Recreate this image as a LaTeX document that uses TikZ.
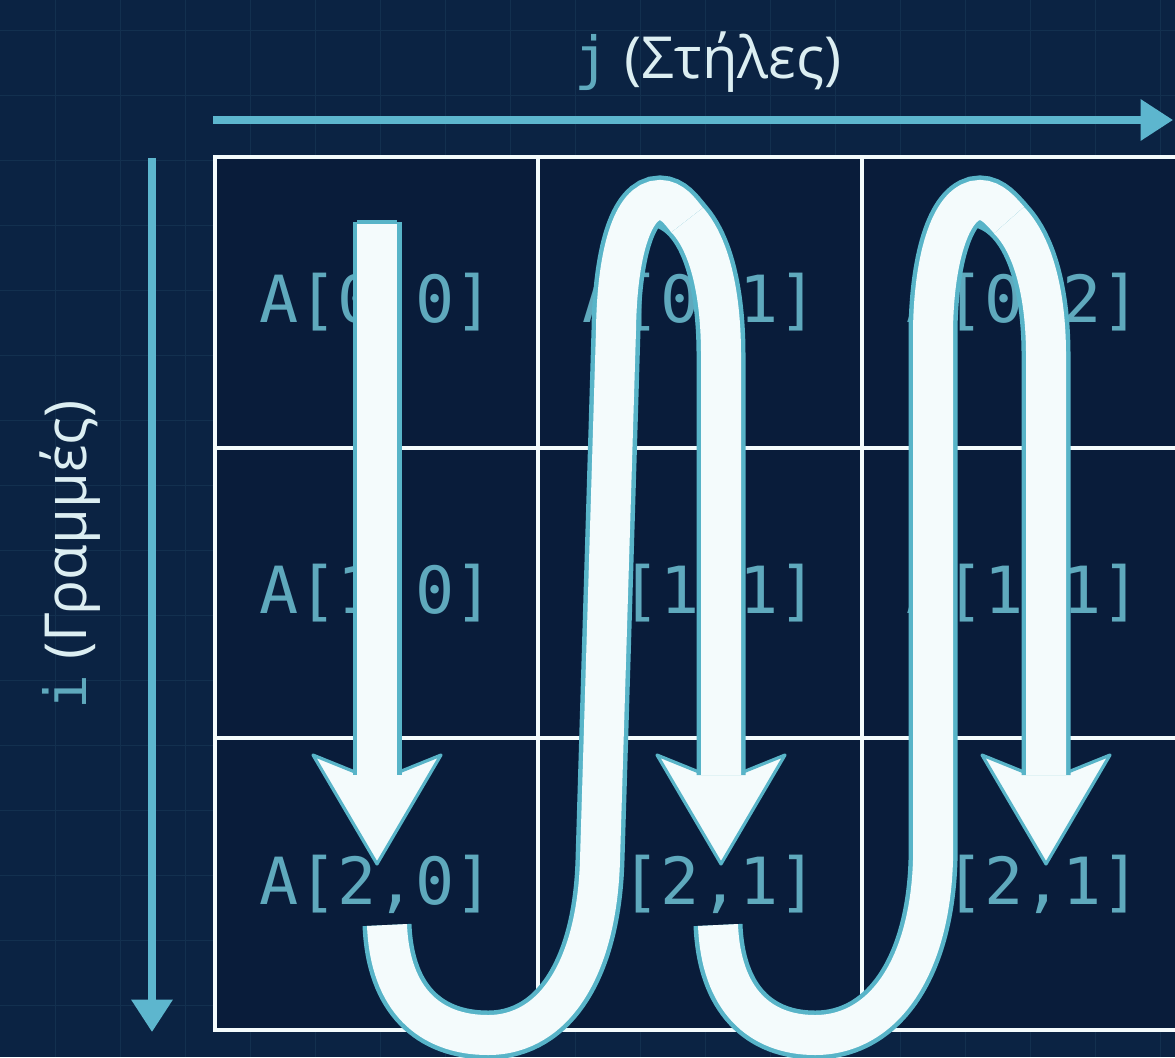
\documentclass[tikz,border=0pt]{standalone}
\usepackage{fontspec}
\setmainfont{Open Sans}
\newfontfamily\codefont{DejaVu Sans Mono}
\usetikzlibrary{arrows.meta}
\definecolor{navy}{HTML}{0B2343}
\definecolor{cellnavy}{HTML}{091C3A}
\definecolor{faint}{HTML}{13304F}
\definecolor{axisteal}{HTML}{5DB6CE}
\definecolor{codeteal}{HTML}{5FA9BD}
\definecolor{rim}{HTML}{58B4C8}
\definecolor{paper}{HTML}{F4FBFC}
\definecolor{labelwhite}{HTML}{DCEEF2}
\tikzset{bggrid/.style={draw=faint,line width=.5pt}, cellline/.style={draw=paper,line width=2.8pt,line cap=rect}, axisarrow/.style={draw=axisteal,line width=4pt,-{Triangle[length=.65cm,width=.8cm]}}, axislabel/.style={text=labelwhite,font=\fontsize{33}{38}\selectfont,inner sep=0pt}, celltext/.style={text=codeteal,font=\codefont\fontsize{37}{40}\selectfont}, band/.style={draw=paper,line width=.8cm,preaction={draw=rim,line width=.98cm}}, headtip/.style={fill=paper,draw=rim,line width=1.8pt,line join=round}}
\begin{document}
\begin{tikzpicture}[x=.02cm,y=-.02cm]
\useasboundingbox (0,0) rectangle (1175,1057);
\clip (0,0) rectangle (1175,1057);
\fill[navy] (0,0) rectangle (1175,1057);
\foreach \x in {55,120,...,1175} \draw[bggrid] (\x,0) -- (\x,1057);
\foreach \y in {30,95,...,1057} \draw[bggrid] (0,\y) -- (1175,\y);
\fill[cellnavy] (215,157) rectangle (1185,1030);
\foreach \x in {215,538,862,1185} \draw[cellline] (\x,157) -- (\x,1030);
\foreach \y in {157,448,738,1030} \draw[cellline] (215,\y) -- (1185,\y);
\coordinate (jfrom) at (213,120);
\coordinate (jto) at (1173,120);
\coordinate (ifrom) at (152,158);
\coordinate (ito) at (152,1032);
\draw[axisarrow] (jfrom) -- (jto);
\draw[axisarrow] (ifrom) -- (ito);
\node[axislabel] (jlab) at (708,62) {{\codefont\color{codeteal}j} (Στήλες)};
\node[axislabel,rotate=90] (ilab) at (70,555) {{\codefont\color{codeteal}i} (Γραμμές)};
\foreach \x in {377,721,1046}
  \filldraw[headtip] (\x-22,772) -- (\x-64,755) -- (\x,864) -- (\x+64,755) -- (\x+22,772);
\foreach \r/\c/\s in {0/0/0,0/1/1,0/2/2,1/0/0,1/1/1,1/2/1,2/0/0,2/1/1,2/2/1}
  \node[celltext] (a\r\c) at ({376.5+323.5*\c},{302.5+291*\r}) {A[\r,\s]};
\draw[band] (377,222) -- (377,775);
\draw[rim,line width=1.8pt] (357,222) -- (397,222);
\draw[band] (650,202) .. controls (700,204) and (721,272) .. (721,355) -- (721,775);
\draw[band] (387,925) .. controls (390,1000) and (430,1035) .. (488,1035) .. controls (556,1035) and (597,965) .. (600,860) -- (616,330) .. controls (617,255) and (632,200) .. (660,200) .. controls (672,200) and (680,211) .. (687,220);
\draw[band] (969,202) .. controls (1022,204) and (1046,272) .. (1046,355) -- (1046,775);
\draw[band] (718,925) .. controls (721,1000) and (760,1035) .. (815,1035) .. controls (885,1035) and (930,965) .. (933,860) -- (933,330) .. controls (934,255) and (952,200) .. (980,200) .. controls (992,200) and (1001,211) .. (1009,220);
\end{tikzpicture}
\end{document}
